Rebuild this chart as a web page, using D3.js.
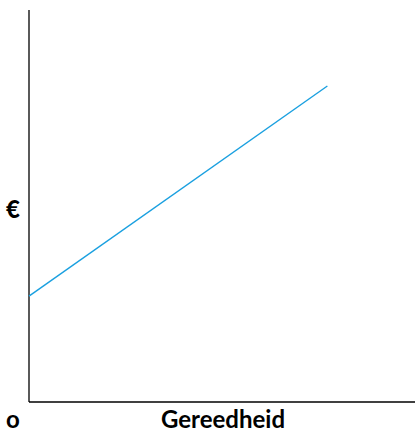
<!DOCTYPE html>
<html>
<head>
<meta charset="utf-8">
<script src="https://cdn.jsdelivr.net/npm/d3@7"></script>
<style>
  body { margin: 0; background: #fff; }
</style>
</head>
<body>
<svg id="chart" width="417" height="433"></svg>
<script>
const svg = d3.select("#chart");
const margin = {top: 10, right: 2, bottom: 31, left: 29};
const width = +svg.attr("width");
const height = +svg.attr("height");

// data: one rising line, arbitrary units (0-100)
const lineX = [0, 77.3];
const lineY = [27.0, 80.6];
const xLabel = "Gereedheid";
const yLabel = "€";
const originLabel = "o";

const x = d3.scaleLinear().domain([0, 100]).range([margin.left, width - margin.right]);
const y = d3.scaleLinear().domain([0, 100]).range([height - margin.bottom, margin.top]);

// axes (just the two lines, no ticks)
svg.append("line")
  .attr("x1", x(0)).attr("x2", x(0))
  .attr("y1", y(0)).attr("y2", y(100))
  .attr("stroke", "#000").attr("stroke-width", 1.3);
svg.append("line")
  .attr("x1", x(0)).attr("x2", x(100))
  .attr("y1", y(0)).attr("y2", y(0))
  .attr("stroke", "#000").attr("stroke-width", 1.3);

const pts = lineX.map((d, i) => [d, lineY[i]]);
svg.append("path")
  .datum(pts)
  .attr("fill", "none")
  .attr("stroke", "#1aa0e0")
  .attr("stroke-width", 1.4)
  .attr("d", d3.line().x(d => x(d[0])).y(d => y(d[1])));

const font = "Lato, sans-serif";
svg.append("text")
  .attr("x", 13).attr("y", 218)
  .attr("text-anchor", "middle")
  .attr("font-family", font).attr("font-weight", 900).attr("font-size", 24)
  .text(yLabel);
svg.append("text")
  .attr("x", 13).attr("y", 428)
  .attr("text-anchor", "middle")
  .attr("font-family", font).attr("font-weight", 700).attr("font-size", 24)
  .text(originLabel);
svg.append("text")
  .attr("x", 223).attr("y", 428)
  .attr("text-anchor", "middle")
  .attr("font-family", font).attr("font-weight", 700).attr("font-size", 24)
  .text(xLabel);
</script>
</body>
</html>
